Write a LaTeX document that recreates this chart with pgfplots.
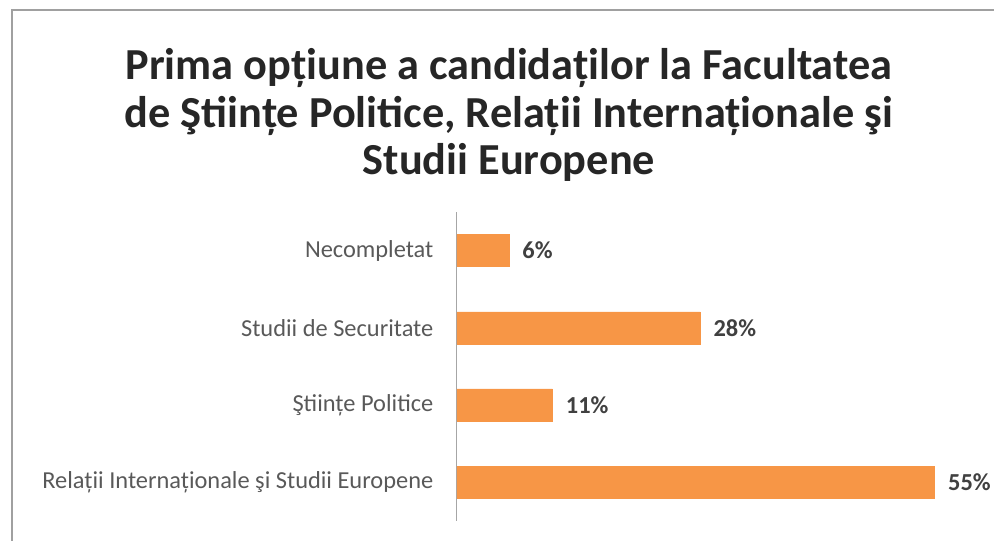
\documentclass[border=0pt]{standalone}
\usepackage{fontspec}
\setmainfont{Carlito}
\usepackage{pgfplots}
\pgfplotsset{compat=1.18}
\definecolor{barorange}{HTML}{F79646}
\definecolor{labelgray}{HTML}{595959}
\definecolor{valgray}{HTML}{404040}
\definecolor{framegray}{HTML}{A0A0A0}

\begin{document}
\begin{tikzpicture}[x=1bp,y=1bp]
 \begin{axis}[
    at={(0,0)}, anchor=south west,
    scale only axis,
    width=521.4bp, height=309bp,
    xbar, bar width=32bp,
    xmin=0, xmax=60,
    ymin=-0.5, ymax=3.5,
    ytick={0,1,2,3},
    yticklabels={Relații Internaționale şi Studii Europene, Ştiințe Politice, Studii de Securitate, Necompletat},
    yticklabel style={font=\fontsize{24.5}{28}\selectfont, text=labelgray},
    y tick label style={xshift=-20bp},
    major tick length=0pt,
    xtick=\empty,
    axis x line=none,
    axis y line*=left,
    y axis line style={draw=gray!70, line width=1bp, -},
    /pgf/number format/assume math mode=true,
    nodes near coords={\pgfmathprintnumber{\pgfplotspointmeta}\%},
    every node near coord/.append style={font=\bfseries\fontsize{24.5}{28}\selectfont, text=valgray, xshift=10bp},
    clip=false,
  ]
  \addplot[fill=barorange, draw=barorange] coordinates {(55,0) (11,1) (28,2) (6,3)};
 \end{axis}
 % frame and title, relative to the axis corner
 \path[use as bounding box] (-457,-20) rectangle (537,521);
 \draw[framegray, line width=2bp] (-445,-25) -- (-445,511) -- (545,511);
 \node[align=center, font=\bfseries\fontsize{44.5}{47.5}\selectfont, text=black!85] at (52,406)
   {Prima opțiune a candidaților la Facultatea\\de Ştiințe Politice, Relații Internaționale şi\\Studii Europene};
\end{tikzpicture}
\end{document}
